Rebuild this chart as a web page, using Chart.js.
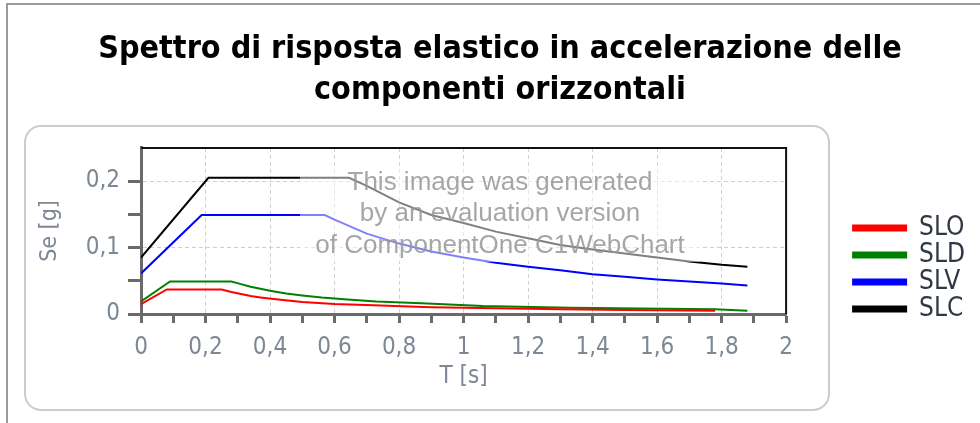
<!DOCTYPE html>
<html>
<head>
<meta charset="utf-8">
<script src="https://cdn.jsdelivr.net/npm/chart.js@4.4.1/dist/chart.umd.min.js"></script>
<style>
  html, body { margin: 0; padding: 0; background: #ffffff; }
  #wrap { width: 980px; height: 423px; position: relative; }
</style>
</head>
<body>
<div id="wrap"><canvas id="c" width="980" height="423"></canvas></div>
<script>
// ---- data ----
const seriesNames = ["SLO", "SLD", "SLV", "SLC"];

const sloT  = [0, 0.08, 0.25, 0.28, 0.31, 0.34, 0.37, 0.44, 0.50, 0.60, 0.72, 0.90, 1.10, 1.30, 1.50, 1.78];
const sloSe = [0.015, 0.037, 0.037, 0.033, 0.030, 0.027, 0.025, 0.021, 0.018, 0.015, 0.013, 0.010, 0.0085, 0.007, 0.006, 0.005];

const sldT  = [0, 0.09, 0.28, 0.31, 0.34, 0.37, 0.40, 0.45, 0.50, 0.56, 0.64, 0.73, 0.87, 1.06, 1.33, 1.55, 1.78, 1.88];
const sldSe = [0.019, 0.049, 0.049, 0.045, 0.041, 0.038, 0.035, 0.031, 0.028, 0.025, 0.022, 0.019, 0.016, 0.012, 0.0095, 0.0082, 0.0072, 0.005];

const slvT  = [0, 0.188, 0.57, 0.60, 0.70, 0.80, 0.90, 1.00, 1.10, 1.20, 1.30, 1.40, 1.50, 1.60, 1.70, 1.80, 1.88];
const slvSe = [0.061, 0.149, 0.149, 0.142, 0.121, 0.106, 0.094, 0.085, 0.077, 0.071, 0.066, 0.060, 0.056, 0.052, 0.049, 0.046, 0.043];

const slcT  = [0, 0.209, 0.645, 0.70, 0.80, 0.90, 1.00, 1.10, 1.20, 1.30, 1.40, 1.50, 1.60, 1.70, 1.80, 1.88];
const slcSe = [0.085, 0.205, 0.205, 0.193, 0.168, 0.149, 0.137, 0.124, 0.114, 0.104, 0.097, 0.091, 0.085, 0.079, 0.074, 0.071];

const titleLines = ["Spettro di risposta elastico in accelerazione delle", "componenti orizzontali"];
const xTitle = "T [s]";
const yTitle = "Se [g]";
const watermarkLines = ["This image was generated", "by an evaluation version", "of ComponentOne C1WebChart"];

// ---- helpers ----
const toPts = (ts, vs) => ts.map((t, i) => ({ x: t, y: vs[i] }));
const fmt = v => String(Math.round(v * 10) / 10).replace('.', ',');
const NARROW = '"Liberation Sans Narrow", "DejaVu Sans Condensed", "Liberation Sans", Arial, sans-serif';
const TICKCOL = '#7d8894';
const AXISCOL = '#6a6a6a';
const GRIDCOL = '#cfcfcf';

const framePlugin = {
  id: 'frame',
  afterLayout(chart) {
    const lg = chart.legend;
    if (lg) { lg.top += 9; lg.bottom += 9; }
  },
  beforeDraw(chart) {
    const ctx = chart.ctx;
    ctx.save();
    ctx.fillStyle = '#ffffff';
    ctx.fillRect(0, 0, chart.width, chart.height);
    // outer gray frame (top and left)
    ctx.strokeStyle = '#9a9a9a';
    ctx.lineWidth = 2;
    ctx.beginPath();
    ctx.moveTo(7, chart.height);
    ctx.lineTo(7, 4);
    ctx.lineTo(chart.width, 4);
    ctx.stroke();
    // rounded panel
    const x = 25, y = 126, w = 804, h = 284, r = 16;
    ctx.strokeStyle = '#cdcdcd';
    ctx.lineWidth = 2;
    ctx.beginPath();
    ctx.moveTo(x + r, y);
    ctx.arcTo(x + w, y, x + w, y + h, r);
    ctx.arcTo(x + w, y + h, x, y + h, r);
    ctx.arcTo(x, y + h, x, y, r);
    ctx.arcTo(x, y, x + w, y, r);
    ctx.closePath();
    ctx.stroke();
    ctx.restore();
  },
  afterDatasetsDraw(chart) {
    const ctx = chart.ctx;
    ctx.save();
    ctx.fillStyle = 'rgba(255,255,255,0.5)';
    ctx.fillRect(300, 165, 400, 97);
    ctx.fillStyle = 'rgba(150,150,150,0.85)';
    ctx.font = '26px "Liberation Sans", Arial, sans-serif';
    ctx.textAlign = 'center';
    ctx.textBaseline = 'middle';
    const ys = [183, 214, 246];
    watermarkLines.forEach((s, i) => ctx.fillText(s, 500, ys[i]));
    ctx.restore();
  },
  afterDraw(chart) {
    const a = chart.chartArea;
    const ctx = chart.ctx;
    ctx.save();
    ctx.strokeStyle = '#111111';
    ctx.lineWidth = 2;
    ctx.beginPath();
    ctx.moveTo(a.left, a.top);
    ctx.lineTo(a.right, a.top);
    ctx.lineTo(a.right, a.bottom);
    ctx.stroke();
    ctx.restore();
  }
};

const colors = ['#ff0000', '#008000', '#0000ff', '#000000'];
const seriesT = [sloT, sldT, slvT, slcT];
const seriesSe = [sloSe, sldSe, slvSe, slcSe];

new Chart(document.getElementById('c'), {
  type: 'line',
  data: {
    datasets: seriesNames.map((n, i) => ({
      label: n,
      data: toPts(seriesT[i], seriesSe[i]),
      borderColor: colors[i],
      backgroundColor: colors[i],
      borderWidth: 2,
      pointRadius: 0,
      tension: 0,
      fill: false
    }))
  },
  options: {
    responsive: false,
    animation: false,
    devicePixelRatio: 1,
    layout: { padding: { left: 25, right: 5, top: 0, bottom: 20 } },
    plugins: {
      title: {
        display: true,
        text: titleLines,
        color: '#000000',
        font: { family: NARROW, size: 32, weight: 'bold', lineHeight: 1.28 },
        padding: { top: 29.5, bottom: 36.5 }
      },
      legend: {
        display: true,
        position: 'right',
        fullSize: false,
        align: 'end',
        labels: {
          boxWidth: 53,
          boxHeight: 5,
          padding: 1,
          color: '#2f3844',
          font: { family: NARROW, size: 26 }
        }
      },
      tooltip: { enabled: false }
    },
    scales: {
      x: {
        type: 'linear',
        min: 0, max: 2,
        afterFit(s) { s.height = 89; },
        ticks: {
          stepSize: 0.1,
          autoSkip: false,
          maxRotation: 0,
          padding: 10,
          color: TICKCOL,
          font: { family: NARROW, size: 24 },
          callback: v => (Math.round(v * 10) % 2 === 0 ? fmt(v) : '')
        },
        grid: {
          color: c => { const r = Math.round(c.tick.value * 10); return (r % 2 === 0 && r > 0 && r < 20) ? GRIDCOL : 'rgba(0,0,0,0)'; },
          lineWidth: 1,
          tickColor: AXISCOL,
          tickLength: 9,
          tickWidth: 3,
          tickBorderDash: []
        },
        border: { display: true, color: AXISCOL, width: 3, dash: [4, 3] },
        title: {
          display: true, text: xTitle, color: TICKCOL,
          font: { family: NARROW, size: 24 },
          padding: { top: 0, bottom: 12 }
        }
      },
      y: {
        type: 'linear',
        min: 0, max: 0.25,
        afterFit(s) { s.width = 141 - 25; },
        ticks: {
          stepSize: 0.05,
          padding: 8,
          color: TICKCOL,
          font: { family: NARROW, size: 24 },
          callback: v => { const r = Math.round(v * 100); return (r % 10 === 0 && r <= 20) ? fmt(v) : ''; }
        },
        grid: {
          color: c => { const r = Math.round(c.tick.value * 100); return (r === 10 || r === 20) ? GRIDCOL : 'rgba(0,0,0,0)'; },
          lineWidth: 1,
          tickColor: c => (Math.round(c.tick.value * 100) === 25 ? 'rgba(0,0,0,0)' : AXISCOL),
          tickLength: 13,
          tickWidth: 3,
          tickBorderDash: []
        },
        border: { display: true, color: AXISCOL, width: 3, dash: [4, 3] },
        title: {
          display: true, text: yTitle, color: TICKCOL,
          font: { family: NARROW, size: 23 },
          padding: { top: 11, bottom: 0 }
        }
      },
      yr: {
        type: 'linear',
        position: 'right',
        min: 0, max: 0.25,
        afterFit(s) { s.width = 66; },
        ticks: { display: false },
        grid: { display: false, drawTicks: false },
        border: { display: false }
      }
    }
  },
  plugins: [framePlugin]
});
</script>
</body>
</html>
